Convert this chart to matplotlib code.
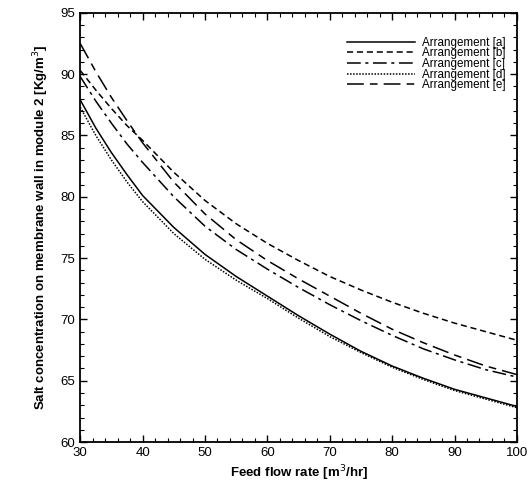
import matplotlib
matplotlib.use("Agg")
import matplotlib.pyplot as plt
from matplotlib.ticker import MultipleLocator

plt.rcParams['font.family'] = ['Liberation Sans', 'DejaVu Sans']

flow = [30, 32.5, 35, 37.5, 40, 45, 50, 55, 60, 65, 70, 75, 80, 85, 90, 95, 100]
arr_a = [87.9, 85.6, 83.6, 81.8, 80.1, 77.5, 75.3, 73.5, 71.9, 70.3, 68.8, 67.4, 66.2, 65.2, 64.3, 63.6, 62.9]
arr_b = [90.3, 88.7, 87.2, 85.8, 84.6, 82.0, 79.7, 77.8, 76.2, 74.8, 73.5, 72.4, 71.4, 70.5, 69.7, 69.0, 68.3]
arr_c = [89.8, 87.8, 86.0, 84.3, 82.8, 80.0, 77.6, 75.7, 74.1, 72.6, 71.2, 69.9, 68.7, 67.6, 66.7, 65.9, 65.3]
arr_d = [87.3, 85.0, 83.0, 81.2, 79.6, 77.0, 74.9, 73.2, 71.7, 70.1, 68.6, 67.3, 66.1, 65.1, 64.2, 63.5, 62.8]
arr_e = [92.5, 90.2, 88.1, 86.2, 84.4, 81.2, 78.6, 76.5, 74.8, 73.3, 71.9, 70.5, 69.2, 68.1, 67.1, 66.2, 65.5]

labels = ["Arrangement [a]", "Arrangement [b]", "Arrangement [c]", "Arrangement [d]", "Arrangement [e]"]
series = [arr_a, arr_b, arr_c, arr_d, arr_e]
styles = ["-", (0, (4, 2.5)), (0, (9, 3, 2, 3)), (0, (1, 1)), (0, (11, 4, 5, 4))]

fig = plt.figure(figsize=(5.28, 4.95), dpi=100)
ax = fig.add_axes([0.152, 0.107, 0.827, 0.867])

for ys, lab, ls in zip(series, labels, styles):
    ax.plot(flow, ys, color='black', linestyle=ls, linewidth=1.1, label=lab)

ax.set_xlim(30, 100)
ax.set_ylim(60, 95)
ax.xaxis.set_major_locator(MultipleLocator(10))
ax.xaxis.set_minor_locator(MultipleLocator(2))
ax.yaxis.set_major_locator(MultipleLocator(5))
ax.yaxis.set_minor_locator(MultipleLocator(1))
ax.tick_params(which='both', direction='in', top=True, right=True, labelsize=9.5)
ax.tick_params(which='major', length=5, width=1)
ax.tick_params(which='minor', length=3, width=0.8)
for sp in ax.spines.values():
    sp.set_linewidth(1.3)

ax.set_xlabel("Feed flow rate [m$^3$/hr]", fontsize=9.5, fontweight='bold', labelpad=3)
ax.set_ylabel("Salt concentration on membrane wall in module 2 [Kg/m$^3$]", fontsize=9.5, fontweight='bold', labelpad=7)

ax.legend(loc='upper right', frameon=False, fontsize=8.4, handlelength=5.8, handletextpad=0.6,
          labelspacing=-0.12, borderaxespad=0.0, bbox_to_anchor=(0.985, 0.955))

fig.savefig("out.png", dpi=100)
